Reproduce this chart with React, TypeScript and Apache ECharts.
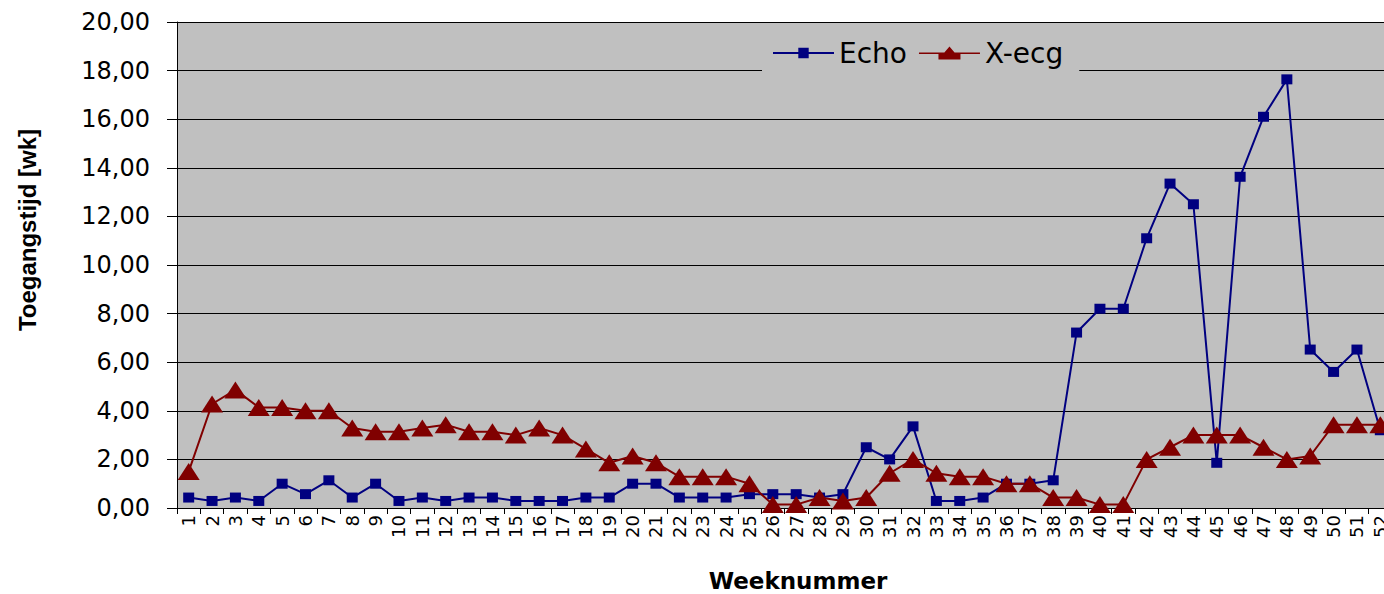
import React, { useEffect, useRef } from 'react';
import * as echarts from 'echarts';

const weeks: string[] = [
  '1', '2', '3', '4', '5', '6', '7', '8', '9', '10', '11', '12', '13',
  '14', '15', '16', '17', '18', '19', '20', '21', '22', '23', '24', '25', '26',
  '27', '28', '29', '30', '31', '32', '33', '34', '35', '36', '37', '38', '39',
  '40', '41', '42', '43', '44', '45', '46', '47', '48', '49', '50', '51', '52',
];

const echo: number[] = [
  0.43, 0.29, 0.43, 0.29, 1.0, 0.57, 1.14, 0.43, 1.0, 0.29, 0.43, 0.29, 0.43,
  0.43, 0.29, 0.29, 0.29, 0.43, 0.43, 1.0, 1.0, 0.43, 0.43, 0.43, 0.57, 0.57,
  0.57, 0.43, 0.57, 2.5, 2.0, 3.36, 0.29, 0.29, 0.43, 1.0, 1.0, 1.14, 7.22,
  8.2, 8.2, 11.1, 13.35, 12.5, 1.86, 13.63, 16.1, 17.64, 6.52, 5.6, 6.52, 3.2,
];

const xecg: number[] = [
  1.5, 4.28, 4.86, 4.14, 4.14, 4.0, 4.0, 3.29, 3.14, 3.14, 3.29, 3.43, 3.14,
  3.14, 3.0, 3.29, 3.0, 2.43, 1.86, 2.14, 1.86, 1.29, 1.29, 1.29, 1.0, 0.14,
  0.14, 0.43, 0.29, 0.43, 1.43, 2.0, 1.43, 1.29, 1.29, 1.0, 1.0, 0.43, 0.43,
  0.14, 0.14, 2.0, 2.5, 3.0, 3.0, 3.0, 2.5, 2.0, 2.14, 3.43, 3.43, 3.43,
];

const seriesNames: string[] = ['Echo', 'X-ecg'];
const yTitle = 'Toegangstijd [wk]';
const xTitle = 'Weeknummer';

// legend icon for the triangle series: a line with a wide triangle in the middle
const triangleIcon =
  'path://M0,6 L61,6 L61,7.6 L41.5,7.6 L41.5,13 L19.5,13 L19.5,7.6 L0,7.6 Z M19.5,13 L30.5,0 L41.5,13 Z';

export default function App() {
  const ref = useRef<HTMLDivElement>(null);

  useEffect(() => {
    if (!ref.current) return;
    const chart = echarts.init(ref.current, null, { renderer: 'svg' });
    chart.setOption({
      animation: false,
      backgroundColor: '#ffffff',
      grid: {
        left: 177,
        top: 22,
        right: 0,
        bottom: 86,
        show: true,
        backgroundColor: '#C0C0C0',
        borderWidth: 0,
      },
      legend: {
        data: [{ name: seriesNames[0] }, { name: seriesNames[1], icon: triangleIcon }],
        left: 762,
        top: 33,
        padding: [6, 16, 6, 10],
        backgroundColor: '#C0C0C0',
        itemWidth: 61,
        itemHeight: 13,
        itemGap: 12,
        textStyle: { fontFamily: 'DejaVu Sans', fontSize: 28, color: '#000' },
      },
      xAxis: {
        type: 'category',
        data: weeks,
        boundaryGap: true,
        axisLine: { show: true, lineStyle: { color: '#000', width: 1 } },
        axisTick: { show: true, length: 6, lineStyle: { color: '#000' } },
        axisLabel: {
          rotate: 90,
          interval: 0,
          margin: 7,
          fontFamily: 'DejaVu Sans',
          fontSize: 18,
          color: '#000',
        },
        splitLine: { show: false },
      },
      yAxis: {
        type: 'value',
        min: 0,
        max: 20,
        interval: 2,
        axisLine: { show: true, lineStyle: { color: '#000', width: 1 } },
        axisTick: { show: true, length: 10, lineStyle: { color: '#000' } },
        axisLabel: {
          margin: 27,
          fontFamily: 'DejaVu Sans',
          fontSize: 24,
          color: '#000',
          formatter: (v: number) => v.toFixed(2).replace('.', ','),
        },
        splitLine: { show: true, lineStyle: { color: '#000', width: 1 } },
      },
      graphic: [
        {
          type: 'text',
          x: 27,
          y: 230,
          rotation: Math.PI / 2,
          style: {
            text: yTitle,
            font: 'bold 24px "Liberation Sans", Arial, sans-serif',
            fill: '#000',
            align: 'center',
            verticalAlign: 'middle',
            textAlign: 'center',
            textVerticalAlign: 'middle',
          },
        },
        {
          type: 'text',
          x: 798,
          y: 581,
          style: {
            text: xTitle,
            font: 'bold 23px "DejaVu Sans", sans-serif',
            fill: '#000',
            align: 'center',
            verticalAlign: 'middle',
            textAlign: 'center',
            textVerticalAlign: 'middle',
          },
        },
      ],
      series: [
        {
          name: seriesNames[0],
          type: 'line',
          data: echo,
          symbol: 'rect',
          symbolSize: [11, 10],
          itemStyle: { color: '#000080' },
          lineStyle: { color: '#000080', width: 2 },
        },
        {
          name: seriesNames[1],
          type: 'line',
          data: xecg,
          symbol: 'triangle',
          symbolSize: [22, 17],
          itemStyle: { color: '#800000' },
          lineStyle: { color: '#800000', width: 2 },
        },
      ],
    });
    return () => chart.dispose();
  }, []);

  return (
    <div
      style={{
        position: 'absolute',
        left: 0,
        top: 0,
        width: 1384,
        height: 594,
        overflow: 'hidden',
      }}
    >
      <div ref={ref} style={{ width: 1392, height: 594 }} />
    </div>
  );
}
